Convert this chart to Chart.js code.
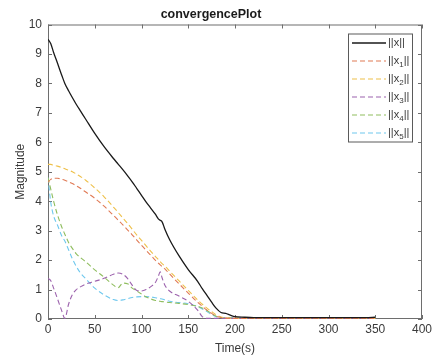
<!DOCTYPE html>
<html>
  <head>
    <script src="https://cdn.jsdelivr.net/npm/chart.js"></script>
    <style>
      body { margin: 0; background: #ffffff; }
      .chart-box { width: 438px; height: 360px; }
    </style>
  </head>
  <body>
    <div class="chart-box">
      <canvas id="convergenceChart"></canvas>
    </div>

    <script>
      // time axis (s), shared by every series
      var timeS = [0, 3, 6, 10, 15, 18, 22, 26, 30, 35, 40, 50, 60, 70, 75, 80, 85, 90, 95, 100,
        105, 110, 115, 118, 120, 122, 125, 130, 140, 150, 160, 165, 170, 175, 180, 185, 190, 195, 200,
        210, 220, 240, 260, 280, 300, 320, 340, 350];

      var normX = [9.5, 9.35, 9.05, 8.7, 8.25, 8.0, 7.75, 7.52, 7.3, 7.05, 6.8, 6.3, 5.85, 5.45, 5.26, 5.07, 4.87, 4.66, 4.43, 4.2,
        3.97, 3.76, 3.55, 3.4, 3.35, 3.3, 3.05, 2.7, 2.15, 1.68, 1.28, 1.03, 0.8, 0.57, 0.36, 0.22, 0.19, 0.13, 0.08,
        0.06, 0.05, 0.05, 0.05, 0.05, 0.05, 0.05, 0.05, 0.06];
      var normX1 = [4.65, 4.74, 4.78, 4.78, 4.74, 4.71, 4.66, 4.6, 4.53, 4.43, 4.32, 4.1, 3.83, 3.52, 3.36, 3.2, 3.03, 2.86, 2.68, 2.5,
        2.33, 2.16, 1.99, 1.9, 1.84, 1.78, 1.7, 1.53, 1.2, 0.88, 0.57, 0.43, 0.3, 0.19, 0.1, 0.05, 0.03, 0.02, 0.02,
        0.02, 0.02, 0.02, 0.02, 0.02, 0.02, 0.02, 0.02, 0.02];
      var normX2 = [5.25, 5.25, 5.22, 5.19, 5.14, 5.1, 5.05, 5.0, 4.93, 4.83, 4.72, 4.45, 4.15, 3.8, 3.62, 3.43, 3.25, 3.05, 2.85, 2.67,
        2.48, 2.3, 2.12, 2.02, 1.95, 1.88, 1.8, 1.63, 1.3, 0.97, 0.65, 0.5, 0.37, 0.25, 0.14, 0.07, 0.04, 0.03, 0.02,
        0.02, 0.02, 0.02, 0.02, 0.02, 0.02, 0.02, 0.02, 0.02];
      var normX3 = [1.38, 1.3, 1.05, 0.7, 0.25, 0.02, 0.5, 0.82, 0.99, 1.1, 1.18, 1.28, 1.38, 1.52, 1.56, 1.52, 1.38, 1.15, 0.97, 0.95,
        1.0, 1.1, 1.25, 1.45, 1.6, 1.4, 1.15, 0.95, 0.78, 0.6, 0.3, 0.08, 0.02, 0.02, 0.02, 0.02, 0.02, 0.02, 0.02,
        0.02, 0.02, 0.02, 0.02, 0.02, 0.02, 0.02, 0.02, 0.02];
      var normX4 = [4.8, 4.4, 4.0, 3.55, 3.1, 2.88, 2.6, 2.4, 2.22, 2.08, 1.95, 1.67, 1.42, 1.15, 1.06, 1.22, 1.2, 1.05, 0.95, 0.85,
        0.75, 0.68, 0.63, 0.61, 0.6, 0.59, 0.58, 0.56, 0.53, 0.49, 0.43, 0.37, 0.29, 0.18, 0.09, 0.05, 0.04, 0.03, 0.03,
        0.03, 0.03, 0.03, 0.03, 0.03, 0.03, 0.03, 0.03, 0.03];
      var normX5 = [4.8, 3.95, 3.5, 3.2, 2.8, 2.65, 2.35, 2.05, 1.8, 1.55, 1.38, 1.05, 0.82, 0.66, 0.63, 0.65, 0.69, 0.73, 0.75, 0.76,
        0.76, 0.75, 0.72, 0.7, 0.69, 0.68, 0.65, 0.6, 0.56, 0.52, 0.42, 0.34, 0.25, 0.15, 0.08, 0.05, 0.04, 0.04, 0.04,
        0.04, 0.04, 0.04, 0.04, 0.04, 0.04, 0.04, 0.04, 0.04];

      var seriesNames = ['||x||', '||x₁||', '||x₂||', '||x₃||', '||x₄||', '||x₅||'];
      var seriesValues = [normX, normX1, normX2, normX3, normX4, normX5];
      var seriesColors = ['#1a1a1a', '#e07a55', '#eec04a', '#9c62ad', '#8fbd5e', '#6fc8ee'];

      var axisColor = '#6e6e6e';
      var textColor = '#3a3a3a';
      var fontFamily = '"Liberation Sans", Arial, sans-serif';

      function toPoints(values) {
        return values.map(function(v, i) { return { x: timeS[i], y: v }; });
      }

      var datasets = seriesValues.map(function(values, i) {
        return {
          label: seriesNames[i],
          data: toPoints(values),
          borderColor: seriesColors[i],
          borderWidth: i === 0 ? 1.3 : 1.1,
          borderDash: i === 0 ? [] : [5, 3],
          pointRadius: 0,
          cubicInterpolationMode: 'monotone',
          fill: false
        };
      });

      // box round the axes with inward ticks, matlab style
      var axesFrame = {
        id: 'axesFrame',
        beforeDatasetsDraw: function(chart) {
          var ctx = chart.ctx;
          var a = chart.chartArea;
          var xs = chart.scales.x, ys = chart.scales.y;
          var len = 4;
          ctx.save();
          ctx.strokeStyle = axisColor;
          ctx.lineWidth = 1;
          ctx.strokeRect(a.left + 0.5, a.top + 0.5, a.right - a.left - 1, a.bottom - a.top - 1);
          ctx.beginPath();
          xs.ticks.forEach(function(t) {
            var px = Math.round(xs.getPixelForValue(t.value)) + 0.5;
            ctx.moveTo(px, a.bottom); ctx.lineTo(px, a.bottom - len);
            ctx.moveTo(px, a.top); ctx.lineTo(px, a.top + len);
          });
          ys.ticks.forEach(function(t) {
            var py = Math.round(ys.getPixelForValue(t.value)) + 0.5;
            ctx.moveTo(a.left, py); ctx.lineTo(a.left + len, py);
            ctx.moveTo(a.right, py); ctx.lineTo(a.right - len, py);
          });
          ctx.stroke();
          ctx.restore();
        }
      };

      // legend box in the top right corner, with subscripts
      var subDigits = '₀₁₂₃₄₅₆₇₈₉';
      var insideLegend = {
        id: 'insideLegend',
        afterDatasetsDraw: function(chart) {
          var ctx = chart.ctx;
          var a = chart.chartArea;
          var boxW = 65, boxH = 109;
          var left = a.right - 9 - boxW, top = a.top + 9;
          ctx.save();
          ctx.fillStyle = '#ffffff';
          ctx.fillRect(left, top, boxW, boxH);
          ctx.strokeStyle = '#5a5a5a';
          ctx.lineWidth = 1;
          ctx.strokeRect(left + 0.5, top + 0.5, boxW - 1, boxH - 1);
          chart.data.datasets.forEach(function(ds, i) {
            var y = top + 9.5 + i * 18;
            ctx.beginPath();
            ctx.strokeStyle = ds.borderColor;
            ctx.lineWidth = ds.borderWidth;
            ctx.setLineDash(ds.borderDash);
            ctx.moveTo(left + 4, y);
            ctx.lineTo(left + 38, y);
            ctx.stroke();
            ctx.setLineDash([]);
            var x = left + 40;
            ctx.fillStyle = textColor;
            ctx.textBaseline = 'middle';
            ds.label.split('').forEach(function(ch) {
              var k = subDigits.indexOf(ch);
              if (k >= 0) {
                ctx.font = '8px ' + fontFamily;
                ctx.fillText(String(k), x, y + 4);
                x += ctx.measureText(String(k)).width;
              } else {
                ctx.font = '11px ' + fontFamily;
                ctx.fillText(ch, x, y);
                x += ctx.measureText(ch).width;
              }
            });
          });
          ctx.restore();
        }
      };

      var ctx = document.getElementById('convergenceChart').getContext('2d');
      new Chart(ctx, {
        type: 'line',
        data: { datasets: datasets },
        options: {
          responsive: true,
          maintainAspectRatio: false,
          animation: false,
          layout: { padding: { left: 0, right: 16, top: 0, bottom: 0 } },
          plugins: {
            legend: { display: false },
            tooltip: { enabled: false },
            title: {
              display: true,
              text: 'convergencePlot',
              color: '#1a1a1a',
              font: { family: fontFamily, size: 12.5, weight: 'bold' },
              padding: { top: 7, bottom: 2.5 }
            }
          },
          scales: {
            x: {
              type: 'linear',
              min: 0,
              max: 400,
              ticks: { stepSize: 50, color: textColor, padding: 3, font: { family: fontFamily, size: 12 } },
              grid: { display: false, drawTicks: false },
              border: { display: false },
              title: {
                display: true,
                text: 'Time(s)',
                color: textColor,
                font: { family: fontFamily, size: 12 },
                padding: { top: 0, bottom: 4 }
              },
              afterFit: function(scale) { scale.height = 41; }
            },
            y: {
              min: 0,
              max: 10,
              ticks: { stepSize: 1, color: textColor, padding: 6, font: { family: fontFamily, size: 12 } },
              grid: { display: false, drawTicks: false },
              border: { display: false },
              title: {
                display: true,
                text: 'Magnitude',
                color: textColor,
                font: { family: fontFamily, size: 12 },
                padding: { top: 13, bottom: 0 }
              },
              afterFit: function(scale) { scale.width = 48; }
            }
          }
        },
        plugins: [axesFrame, insideLegend]
      });
    </script>
  </body>
</html>
